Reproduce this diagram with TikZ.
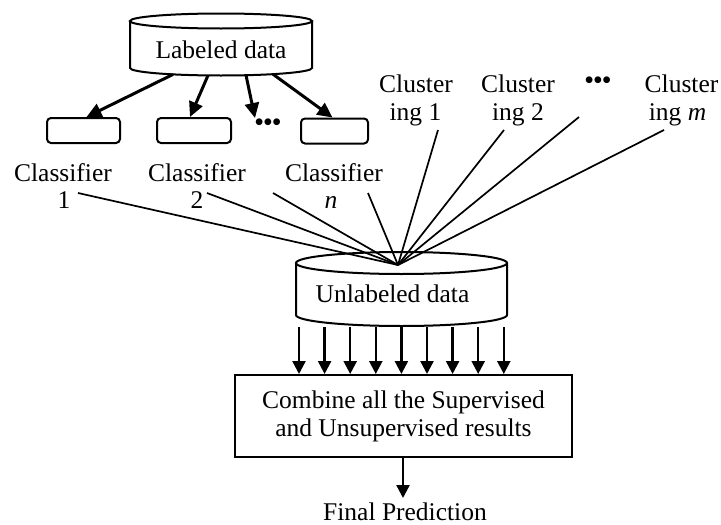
\documentclass[tikz,border=0pt]{standalone}
\usepackage{fontspec}
\setmainfont{Liberation Serif}
\usetikzlibrary{arrows.meta}
\begin{document}
\begin{tikzpicture}[x=1pt,y=-1pt,
  lbl/.style={font=\fontsize{25.5}{28}\selectfont, inner sep=0pt, anchor=base},
  dotsl/.style={font=\fontsize{25}{28}\selectfont\bfseries, inner sep=0pt},
  clsbox/.style={draw, line width=2pt, rounded corners=4pt, minimum height=25pt, inner sep=0pt},
  thickarr/.style={line width=3pt, -{Triangle[length=15pt,width=14pt]}},
  downarr/.style={line width=2.4pt, -{Triangle[length=13pt,width=13pt]}},
  fan/.style={line width=1.7pt},
  cyl/.style={line width=2pt}]
\useasboundingbox (0,0) rectangle (721,525);

% Labeled data store
\draw[cyl] (130,21) -- (130,68) arc[start angle=180,end angle=360,x radius=91pt,y radius=7.5pt] -- (312,21);
\draw[cyl] (221,21) ellipse[x radius=91pt,y radius=7.5pt];
\node[lbl] (ld) at (221,58) {Labeled data};

% classifier boxes
\node[clsbox, minimum width=73pt] (b1) at (83.5,130.5) {};
\node[clsbox, minimum width=74pt] (b2) at (194,130.5) {};
\node[clsbox, minimum width=67pt] (bn) at (334.5,131) {};
\node[dotsl] (dl) at (268,125) {•••};

% arrows from the labeled store
\coordinate (s1) at (173,74.4);
\coordinate (s2) at (208,75.4);
\coordinate (s3) at (246,75.2);
\coordinate (s4) at (273,74.2);
\coordinate (t3) at (255,118);
\draw[thickarr] (s1) -- ([xshift=3pt]b1.north);
\draw[thickarr] (s2) -- ([xshift=-4pt]b2.north);
\draw[thickarr] (s3) -- (t3);
\draw[thickarr] (s4) -- ([xshift=-2pt]bn.north);

% classifier labels
\node[lbl] (c1a) at (63,181) {Classifier};
\node[lbl] (c1b) at (64,208) {1};
\node[lbl] (c2a) at (197,181) {Classifier};
\node[lbl] (c2b) at (197,208) {2};
\node[lbl] (cna) at (334,181) {Classifier};
\node[lbl] (cnb) at (331,208) {\itshape n};

% clustering labels
\node[lbl] (k1a) at (416,92) {Cluster};
\node[lbl] (k1b) at (415.5,120) {ing 1};
\node[lbl] (k2a) at (518,92) {Cluster};
\node[lbl] (k2b) at (518,120) {ing 2};
\node[lbl] (kma) at (681.5,92) {Cluster};
\node[lbl] (kmb) at (677.5,120) {ing \itshape m};
\node[dotsl] (dr) at (598,83) {•••};

% Unlabeled data store
\draw[cyl] (296,263) -- (296,315) arc[start angle=180,end angle=360,x radius=105.5pt,y radius=11pt] -- (507,263);
\draw[cyl] (401.5,263) ellipse[x radius=105.5pt,y radius=11pt];
\node[lbl] (ud) at (392.5,302) {Unlabeled data};

% fan of results into the unlabeled store
\coordinate (hub) at (398,265);
\coordinate (f1) at (78,193);
\coordinate (f2) at (207,193);
\coordinate (f3) at (273,193);
\coordinate (f4) at (368,193);
\coordinate (f5) at (438,130);
\coordinate (f6) at (504,130);
\coordinate (f7) at (579,117);
\coordinate (f8) at (664,130);
\foreach \f in {f1,f2,f3,f4,f5,f6,f7,f8}
  \draw[fan] (\f) -- (hub);

% combining step
\node[draw, line width=2pt, minimum width=337pt, minimum height=82pt, inner sep=0pt,
      align=center, font=\fontsize{25.5}{28}\selectfont] (cb) at (403.5,416)
  {Combine all the Supervised\\and Unsupervised results};

\foreach \i in {0,...,8} {
  \coordinate (d\i) at ({299+25.6*\i},327);
  \draw[downarr] (d\i) -- (d\i |- cb.north);
}

% final output
\node[lbl] (fp) at (405,520) {Final Prediction};
\draw[downarr] (cb.south -| 403,0) -- (403,498);
\end{tikzpicture}
\end{document}
